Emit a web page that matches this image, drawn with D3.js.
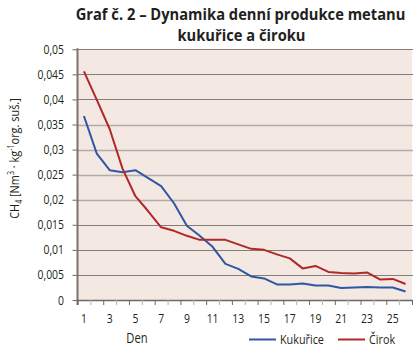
<!DOCTYPE html>
<html><head><meta charset="utf-8">
<script src="https://cdn.jsdelivr.net/npm/d3@7"></script>
<style>
html,body{margin:0;padding:0;background:#fff;}
svg{display:block;}
text{font-family:"Open Sans",sans-serif;fill:#231f20;}
</style></head>
<body>
<script>
const days = d3.range(1, 27);
const xTickLabels = [1,3,5,7,9,11,13,15,17,19,21,23,25];
const yTicks = [0,0.005,0.01,0.015,0.02,0.025,0.03,0.035,0.04,0.045,0.05];
const kukurice = [0.0367,0.0292,0.0259,0.0255,0.0259,0.0243,0.0227,0.0193,0.0148,0.0128,0.0106,0.0072,0.0062,0.0047,0.0043,0.0031,0.0031,0.0033,0.0029,0.0029,0.0024,0.0025,0.0026,0.0025,0.0025,0.0017];
const cirok = [0.0456,0.0399,0.0341,0.0262,0.0207,0.0177,0.0145,0.0138,0.0128,0.0120,0.0120,0.0120,0.0111,0.0102,0.0100,0.0091,0.0083,0.0063,0.0068,0.0056,0.0054,0.0053,0.0055,0.0041,0.0042,0.0032];
const seriesNames = ["Kukuřice","Čirok"];
const colors = ["#2f57a5","#b0292a"];
const title1 = "Graf č. 2 – Dynamika denní produkce metanu";
const title2 = "kukuřice a čiroku";
const xTitle = "Den";

const W = 413, H = 349;
const SX = 0.8; // horizontal condensing of the narrow font
const svg = d3.select("body").append("svg").attr("width", W).attr("height", H);
const pL = 77.5, pR = 412, pT = 49.3, pB = 300;

const x = d3.scaleBand().domain(days).range([pL, pR]);
const y = d3.scaleLinear().domain([0, 0.05]).range([pB, pT]);

function ctext(parent, px, py, anchor, size, str) {
  return parent.append("g").attr("transform", `translate(${px},${py}) scale(${SX},1)`)
    .append("text").attr("text-anchor", anchor).attr("font-size", size).text(str);
}

// plot background
svg.append("rect").attr("x", pL).attr("y", pT).attr("width", pR - pL).attr("height", pB - pT).attr("fill", "#f3e8e2");

// gridlines
const darkSet = new Set([0.05,0.045,0.04,0.015,0.01,0.005]);
svg.append("g").selectAll("line").data(yTicks.filter(d => d > 0)).join("line")
  .attr("x1", pL).attr("x2", W)
  .attr("y1", d => Math.round(y(d)) + 0.5).attr("y2", d => Math.round(y(d)) + 0.5)
  .attr("stroke", d => darkSet.has(d) ? "#857d79" : "#b3aba7")
  .attr("stroke-width", d => darkSet.has(d) ? 1 : 1.4);

// y axis
const fmt = d => d === 0 ? "0" : String(+d.toFixed(3)).replace(".", ",");
const gy = svg.append("g").attr("transform", `translate(${pL},0)`)
  .call(d3.axisLeft(y).tickValues(yTicks).tickSize(5).tickFormat(""));
gy.select(".domain").remove();
gy.selectAll(".tick line").attr("stroke", "#6f6865");
const gyl = svg.append("g");
yTicks.forEach(t => ctext(gyl, 64, y(t) + 4.5, "end", 13, fmt(t)));
svg.append("line").attr("x1", pL).attr("x2", pL).attr("y1", pT - 1).attr("y2", pB + 5)
  .attr("stroke", "#7a7370").attr("stroke-width", 2);

// x axis
const xb = d3.scaleLinear().domain([0, 26]).range([pL, pR]);
const gx = svg.append("g").attr("transform", `translate(0,${pB})`)
  .call(d3.axisBottom(xb).tickValues(d3.range(0, 27)).tickSize(5).tickFormat(""));
gx.select(".domain").attr("stroke", "#6f6865").attr("stroke-width", 1.5).attr("d", `M${pL},0.5H${W}`);
gx.selectAll(".tick line").attr("stroke", (d, i) => i % 2 ? "#b8b0ac" : "#6f6865");
const gxl = svg.append("g");
xTickLabels.forEach(d => ctext(gxl, x(d) + x.bandwidth() / 2, 323, "middle", 13, d));

// lines
const line = d3.line().x((d, i) => x(days[i]) + x.bandwidth() / 2).y(d => y(d));
[kukurice, cirok].forEach((s, k) => {
  svg.append("path").datum(s).attr("d", line).attr("fill", "none")
    .attr("stroke", colors[k]).attr("stroke-width", 2).attr("stroke-linejoin", "round");
});

// titles: one common horizontal scale for both lines
const tg = [[title1, 240.5, 20], [title2, 241.5, 41]].map(([t, cx, by]) => {
  const g = svg.append("g");
  const tx = g.append("text").attr("font-weight", "bold").attr("font-size", 16)
    .attr("text-anchor", "middle").text(t);
  return { g, w: tx.node().getComputedTextLength(), cx, by };
});
const ts = (315 + 143) / (tg[0].w + tg[1].w);
tg.forEach(o => o.g.attr("transform", `translate(${o.cx},${o.by}) scale(${ts},1)`));

// y title
const yt = svg.append("g").attr("transform", "translate(19,158.5) rotate(-90) scale(0.84,1)")
  .append("text").attr("text-anchor", "middle").attr("font-size", 13);
yt.append("tspan").text("CH");
yt.append("tspan").attr("font-size", 8.5).attr("dy", 3).text("4");
yt.append("tspan").attr("dy", -3).text(" [Nm");
yt.append("tspan").attr("font-size", 8.5).attr("dy", -5).text("3");
yt.append("tspan").attr("dy", 5).text(" · kg");
yt.append("tspan").attr("font-size", 8.5).attr("dy", -5).text("-1");
yt.append("tspan").attr("dy", 5).text("org. suš.]");

// x title
ctext(svg, 137, 343, "middle", 14, xTitle);

// legend
const legX = [249, 338];
seriesNames.forEach((n, k) => {
  svg.append("line").attr("x1", legX[k]).attr("x2", legX[k] + 27).attr("y1", 339.5).attr("y2", 339.5)
    .attr("stroke", colors[k]).attr("stroke-width", 2);
  ctext(svg, legX[k] + 31, 344, "start", 13.5, n);
});
</script>
</body></html>
